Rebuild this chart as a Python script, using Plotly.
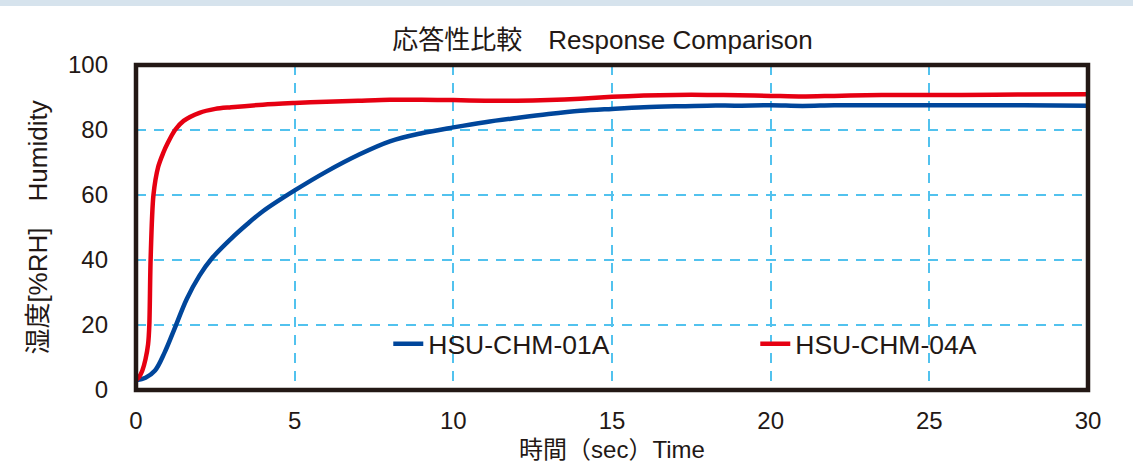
import plotly.graph_objects as go

# ---- data ----
series_names = ["HSU-CHM-01A", "HSU-CHM-04A"]

time_01a = [0, 0.3, 0.6, 0.9, 1.2, 1.6, 2.0, 2.4, 3.0, 3.5, 4.0, 5.0, 6.0, 7.0, 8.0, 9.0,
            10, 11, 12, 13, 14, 15, 16, 17, 18, 19, 20, 21, 22, 23, 24, 25, 26, 28, 30]
hum_01a = [3, 3.8, 6, 11.5, 18.5, 28, 35.2, 40.6, 46.6, 51, 55, 61.4, 67.2, 72.3, 76.5, 79,
           80.8, 82.4, 83.7, 84.9, 85.9, 86.5, 87, 87.3, 87.5, 87.5, 87.6, 87.4, 87.6, 87.6,
           87.6, 87.6, 87.6, 87.6, 87.5]

time_04a = [0, 0.1, 0.2, 0.3, 0.38, 0.42, 0.46, 0.55, 0.7, 0.86, 1.0, 1.23, 1.5, 2.0, 2.5,
            3.0, 4.0, 5.0, 6.0, 7.0, 8.0, 9.0, 10, 11, 12, 13, 14, 15, 16, 17, 18, 19, 20,
            21, 22, 23, 24, 25, 26, 28, 30]
hum_04a = [3, 4, 6, 9.5, 14, 20, 40, 60, 68.7, 73, 76, 80, 82.8, 85.3, 86.5,
           87, 87.8, 88.3, 88.7, 89, 89.3, 89.3, 89.2, 89.0, 89.0, 89.2, 89.6, 90.2, 90.6,
           90.8, 90.8, 90.7, 90.5, 90.3, 90.5, 90.7, 90.8, 90.8, 90.8, 90.9, 91.0]

x_ticks = [0, 5, 10, 15, 20, 25, 30]
y_ticks = [0, 20, 40, 60, 80, 100]

title_text = "応答性比較　Response Comparison"
x_title = "時間（sec）Time"
y_title = "湿度[%RH]　Humidity"

# ---- styles ----
FONT = "Liberation Sans, Arial, Noto Sans CJK JP, sans-serif"
INK = "#231815"
GRID = "#52C2EE"
colors = ["#00469B", "#E60012"]
smooth = [1.0, 0.8]

fig = go.Figure()
for name, xs, ys, c, s in [(series_names[0], time_01a, hum_01a, colors[0], smooth[0]),
                           (series_names[1], time_04a, hum_04a, colors[1], smooth[1])]:
    fig.add_trace(go.Scatter(x=xs, y=ys, mode="lines", name=name,
                             line=dict(color=c, width=4.5, shape="spline", smoothing=s)))

fig.update_layout(
    template="none",
    width=1133, height=470,
    margin=dict(l=136, r=45, t=65, b=80, autoexpand=False),
    paper_bgcolor="white", plot_bgcolor="white",
    font=dict(family=FONT, color=INK, size=24),
    title=dict(text=title_text, x=0.49, xref="paper", xanchor="center",
               y=1 - 40 / 470, yref="container", yanchor="middle",
               font=dict(size=26, color=INK)),
    legend=dict(orientation="h", x=0.265, xanchor="left", y=0.1415, yanchor="middle",
                bgcolor="rgba(0,0,0,0)", font=dict(size=26.5, color=INK),
                entrywidth=322, entrywidthmode="pixels", itemwidth=30),
    showlegend=True,
)

fig.update_xaxes(range=[0, 30], tickvals=x_ticks, showgrid=True, gridcolor=GRID,
                 gridwidth=2, griddash="10px,8px", zeroline=False, showline=False,
                 automargin=False,
                 ticks="", ticklabelstandoff=14, tickfont=dict(size=24, color=INK),
                 title=dict(text=x_title, font=dict(size=24, color=INK), standoff=8))
fig.update_yaxes(range=[0, 100], tickvals=y_ticks, showgrid=True, gridcolor=GRID,
                 gridwidth=2, griddash="10px,8px", zeroline=False, showline=False,
                 automargin=False,
                 ticks="", ticklabelstandoff=27, tickfont=dict(size=24, color=INK),
                 title=dict(text=y_title, font=dict(size=26, color=INK), standoff=12))

# plot frame
fig.add_shape(type="rect", xref="paper", yref="paper", x0=0, x1=1, y0=0, y1=1,
              line=dict(color=INK, width=4.5), layer="above")
# thin band at top of the page
fig.add_shape(type="rect", xref="paper", yref="paper", x0=-0.2, x1=1.1,
              y0=1 + 59 / 325, y1=1 + 70 / 325, line=dict(width=0),
              fillcolor="#D6E3ED", layer="below")

fig.write_html("out.html", config={"displayModeBar": False},
               post_script="document.body.style.margin='0';")
